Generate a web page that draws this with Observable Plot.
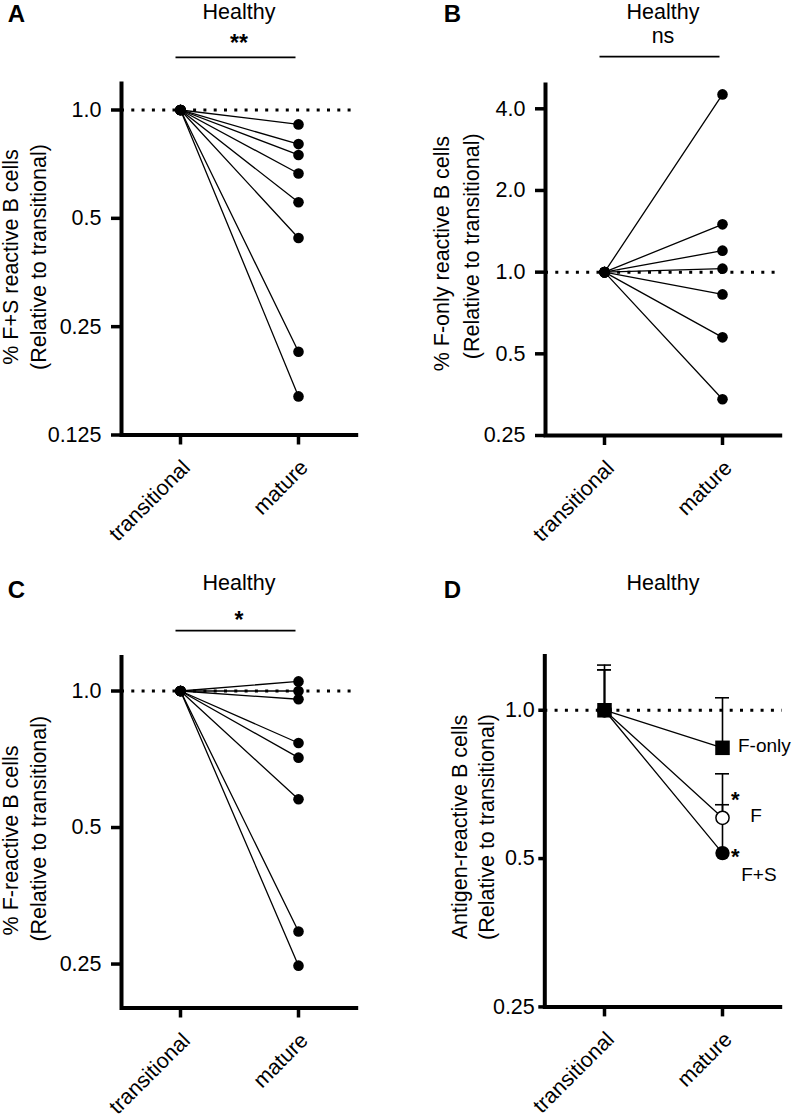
<!DOCTYPE html>
<html><head><meta charset="utf-8">
<script src="https://cdn.jsdelivr.net/npm/d3@7"></script>
<script src="https://cdn.jsdelivr.net/npm/@observablehq/plot@0.6"></script>
<style>
html,body{margin:0;padding:0;background:#fff;}
#fig{position:relative;width:792px;height:1120px;overflow:hidden;background:#fff;}
#fig svg{position:absolute;overflow:visible;}
#fig svg g[aria-label="y-axis tick label"],
#fig svg g[aria-label="x-axis tick label"]{font-size:21.5px;font-family:"Liberation Sans",Arial,sans-serif;font-variant:normal;}
</style></head><body><div id="fig"></div>
<script>
// ---------- data ----------
const stages = ["transitional", "mature"];
// Panel A: % F+S reactive B cells, mature relative to transitional (transitional = 1)
const fsMature = [0.912, 0.804, 0.750, 0.666, 0.554, 0.441, 0.213, 0.160];
// Panel B: % F-only reactive B cells
const fOnlyMature = [4.52, 1.50, 1.20, 1.03, 0.828, 0.575, 0.340];
// Panel C: % F-reactive B cells
const fMature = [1.05, 1.00, 0.959, 0.768, 0.713, 0.577, 0.295, 0.248];
// Panel D: summary (mean + upper error)
const dSeries = ["F+S", "F", "F-only"];
const dMeanTransitional = [1, 1, 1];
const dUpperTransitional = [1.235, 1.208, 1.208];
const dMeanMature = [0.513, 0.605, 0.839];
const dUpperMature = [0.643, 0.743, 1.06];
const dStars = ["*", "*", ""];
// tick values
const ticksA = [0.125, 0.25, 0.5, 1];
const ticksB = [0.25, 0.5, 1, 2, 4];
const ticksC = [0.25, 0.5, 1];
const ticksD = [0.25, 0.5, 1];
const titles = ["Healthy", "Healthy", "Healthy", "Healthy"];
const sigs = ["**", "ns", "*", null];
const letters = ["A", "B", "C", "D"];
const yLabels = [
  ["% F+S reactive B cells", "(Relative to transitional)"],
  ["% F-only reactive B cells", "(Relative to transitional)"],
  ["% F-reactive B cells", "(Relative to transitional)"],
  ["Antigen-reactive B cells", "(Relative to transitional)"]
];

// ---------- helpers ----------
const FONT = '"Liberation Sans", Arial, Helvetica, sans-serif';
const fig = document.getElementById("fig");
const W = 396, H = 560;
const fmt = d => d >= 0.5 ? d.toFixed(1) : String(d);

function pairs(values) {
  return values.flatMap((v, i) => [
    {id: i, stage: stages[0], value: 1},
    {id: i, stage: stages[1], value: v}
  ]);
}

function panel(cfg) {
  const fw = W - cfg.mL - cfg.mR, fh = H - cfg.mT - cfg.mB;
  const plot = Plot.plot({
    width: W, height: H,
    marginLeft: cfg.mL, marginRight: cfg.mR, marginTop: cfg.mT, marginBottom: cfg.mB,
    style: {fontFamily: FONT, fontSize: "21.5px", color: "black", background: "transparent", overflow: "visible"},
    x: {type: "point", domain: stages, padding: 0.5},
    y: {type: "log", base: 2, domain: cfg.domain},
    marks: [
      Plot.axisY({ticks: cfg.ticks, tickFormat: fmt, tickSize: cfg.tickSize, tickPadding: cfg.tickPadding, strokeWidth: 3.5, label: null, fontSize: 21.5}),
      Plot.axisX({tickSize: 10, tickPadding: 13, tickRotate: -45, textAnchor: "end", lineAnchor: "top", strokeWidth: 3.5, label: null, fontSize: 21.5}),
      Plot.ruleY([1], {stroke: "black", strokeWidth: 3, strokeDasharray: "3 7.3"}),
      ...cfg.marks,
      Plot.frame({stroke: "black", strokeWidth: 4, fill: "none", strokeDasharray: `0 ${fw + fh} ${fw + fh}`})
    ]
  });
  plot.style.left = cfg.left + "px";
  plot.style.top = cfg.top + "px";
  fig.appendChild(plot);

  const sx = plot.scale("x");
  const x0 = sx.apply(stages[0]), x1 = sx.apply(stages[1]);
  const cx = (x0 + x1) / 2;
  const svg = d3.select(plot);
  const g = svg.append("g").attr("font-family", FONT).attr("fill", "black");
  g.append("text").attr("x", cfg.letterX).attr("y", cfg.letterY)
    .attr("font-size", 24).attr("font-weight", "bold").text(cfg.letter);
  g.append("text").attr("x", cx).attr("y", cfg.titleY).attr("text-anchor", "middle")
    .attr("font-size", 21.5).text(cfg.title);
  if (cfg.sig) {
    const star = cfg.sig.includes("*");
    g.append("text").attr("x", cx).attr("y", cfg.sigY).attr("text-anchor", "middle")
      .attr("font-size", star ? 23 : 21.5).attr("font-weight", star ? "bold" : "normal").text(cfg.sig);
    g.append("line").attr("x1", x0 - 4.5).attr("x2", x1 - 2.5)
      .attr("y1", cfg.sigLineY).attr("y2", cfg.sigLineY)
      .attr("stroke", "black").attr("stroke-width", 1.7);
  }
  cfg.yLabel.forEach((t, i) => {
    const [lx, ly] = cfg.yLabelPos[i];
    g.append("text").attr("transform", `translate(${lx},${ly}) rotate(-90)`)
      .attr("text-anchor", "middle").attr("dy", "0.35em").attr("font-size", 21.5).text(t);
  });
  return plot;
}

function pairedMarks(values) {
  const rows = pairs(values);
  return [
    Plot.line(rows, {x: "stage", y: "value", z: "id", stroke: "black", strokeWidth: 1.3}),
    Plot.dot(rows, {x: "stage", y: "value", r: 5.3, fill: "black"})
  ];
}

// ---------- panel A ----------
panel({
  left: 0, top: 0, mL: 121, mR: 38.3, mT: 81, mB: 125.5,
  domain: [0.125, 1.2], ticks: ticksA, tickSize: 10, tickPadding: 10,
  marks: pairedMarks(fsMature),
  letter: letters[0], letterX: 16.5, letterY: 22,
  title: titles[0], titleY: 19, sig: sigs[0], sigY: 51, sigLineY: 57.3,
  yLabel: yLabels[0], yLabelPos: [[10, 257], [38.3, 257]]
});

// ---------- panel B ----------
panel({
  left: 396, top: 0, mL: 149, mR: 10.3, mT: 82, mB: 125,
  domain: [0.25, 5], ticks: ticksB, tickSize: 10, tickPadding: 10,
  marks: pairedMarks(fOnlyMature),
  letter: letters[1], letterX: 56.5, letterY: 22,
  title: titles[1], titleY: 19, sig: sigs[1], sigY: 43, sigLineY: 56.6,
  yLabel: yLabels[1], yLabelPos: [[45.7, 253.6], [75, 246.3]]
});

// ---------- panel C ----------
panel({
  left: 0, top: 560, mL: 121, mR: 38.3, mT: 94.6, mB: 112.5,
  domain: [0.2, 1.2], ticks: ticksC, tickSize: 10, tickPadding: 10,
  marks: pairedMarks(fMature),
  letter: letters[2], letterX: 16.5, letterY: 37.5,
  title: titles[2], titleY: 29.5, sig: sigs[2], sigY: 67.5, sigLineY: 70.7,
  yLabel: yLabels[2], yLabelPos: [[10, 280.4], [38, 268.7]]
});

// ---------- panel D ----------
const dRows = dSeries.flatMap((s, i) => [
  {series: s, stage: stages[0], value: dMeanTransitional[i], upper: dUpperTransitional[i], star: ""},
  {series: s, stage: stages[1], value: dMeanMature[i], upper: dUpperMature[i], star: dStars[i]}
]);
const dMature = dRows.filter(d => d.stage === stages[1]);
const bySeries = s => dRows.filter(d => d.series === s);
panel({
  left: 396, top: 560, mL: 148.3, mR: 10.3, mT: 93.6, mB: 113.6,
  domain: [0.25, 1.3], ticks: ticksD, tickSize: 6, tickPadding: 4,
  marks: [
    Plot.ruleX(dRows, {x: "stage", y1: "value", y2: "upper", stroke: "black", strokeWidth: 1.6}),
    Plot.ruleY(dRows, {x1: "stage", x2: "stage", y: "upper", stroke: "black", strokeWidth: 1.6, insetLeft: -7, insetRight: -7}),
    Plot.line(dRows, {x: "stage", y: "value", z: "series", stroke: "black", strokeWidth: 1.3}),
    Plot.dot(bySeries("F+S"), {x: "stage", y: "value", r: 7.2, fill: "black"}),
    Plot.dot(bySeries("F"), {x: "stage", y: "value", r: 6.6, fill: "white", stroke: "black", strokeWidth: 1.5}),
    Plot.dot(bySeries("F-only"), {x: "stage", y: "value", r: 8.2, symbol: "square", fill: "black"}),
    Plot.text(dMature.filter(d => d.series === "F-only"), {x: "stage", y: "value", text: "series", textAnchor: "start", lineAnchor: "middle", dx: 15.5, dy: -2, fontSize: 19}),
    Plot.text(dMature.filter(d => d.series === "F"), {x: "stage", y: "value", text: "series", textAnchor: "start", lineAnchor: "middle", dx: 27.7, dy: -1.6, fontSize: 19}),
    Plot.text(dMature.filter(d => d.series === "F+S"), {x: "stage", y: "value", text: "series", textAnchor: "start", lineAnchor: "middle", dx: 18.7, dy: 22, fontSize: 19}),
    Plot.text(dMature.filter(d => d.series === "F"), {x: "stage", y: "value", text: "star", lineAnchor: "middle", dx: 12.7, dy: -17.5, fontSize: 22, fontWeight: "bold"}),
    Plot.text(dMature.filter(d => d.series === "F+S"), {x: "stage", y: "value", text: "star", lineAnchor: "middle", dx: 12.7, dy: 3.8, fontSize: 22, fontWeight: "bold"})
  ],
  letter: letters[3], letterX: 56.5, letterY: 37.5,
  title: titles[3], titleY: 29.5, sig: sigs[3],
  yLabel: yLabels[3], yLabelPos: [[63.3, 267], [90, 267]]
});
</script></body></html>
